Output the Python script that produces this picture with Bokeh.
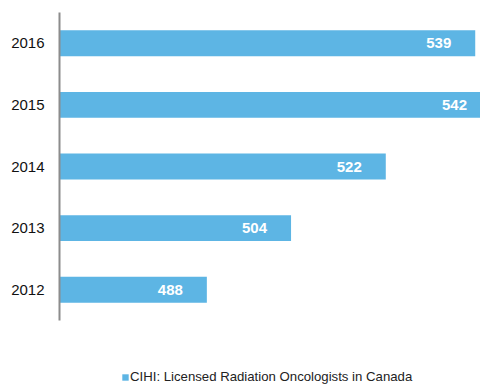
from bokeh.plotting import figure
from bokeh.models import ColumnDataSource, Range1d, Legend, LegendItem, FixedTicker
from bokeh.core.properties import value
from bokeh.embed import file_html
from bokeh.resources import INLINE

years = [2012, 2013, 2014, 2015, 2016]
year_labels = ["2012", "2013", "2014", "2015", "2016"]
counts = [488, 504, 522, 542, 539]
labels = [str(c) for c in counts]
series_name = "CIHI: Licensed Radiation Oncologists in Canada"

FONT = "Liberation Sans"
BAR = "#5db5e4"

src = ColumnDataSource(dict(year=years, count=counts, label=labels))

p = figure(width=480, height=386, output_backend="svg", toolbar_location=None,
           y_range=Range1d(2010.43, 2016.5), x_range=Range1d(460, 540),
           min_border_left=59, min_border_right=0, min_border_top=12,
           min_border_bottom=0)
p.outline_line_color = None
p.xgrid.visible = False
p.ygrid.visible = False
p.xaxis.visible = False

yax = p.yaxis[0]
yax.ticker = FixedTicker(ticks=years)
yax.major_label_overrides = {y: s for y, s in zip(years, year_labels)}
yax.bounds = (2011.5, 2016.5)
yax.axis_line_color = "#8c8c8c"
yax.axis_line_width = 2
yax.major_tick_line_color = None
yax.minor_tick_line_color = None
yax.major_tick_in = 0
yax.major_tick_out = 0
yax.minor_tick_in = 0
yax.minor_tick_out = 0
yax.major_label_text_font = FONT
yax.major_label_text_font_size = "15px"
yax.major_label_text_color = "#111111"
yax.major_label_standoff = 15

r = p.hbar(y="year", left=460, right="count", height=0.42, source=src,
           fill_color=BAR, line_color=None)

p.text(x="count", y="year", text="label", source=src, text_align="right",
       text_baseline="middle", x_offset=-24, text_color="white",
       text_font=value(FONT), text_font_style="bold", text_font_size="15px")

legend = Legend(items=[LegendItem(label=series_name, renderers=[r])],
                location=(62, 2), orientation="horizontal",
                glyph_width=8, glyph_height=8, label_standoff=1,
                padding=0, margin=0, border_line_color=None,
                background_fill_alpha=0,
                label_text_font=FONT, label_text_font_size="13.2px",
                label_text_color="#222222")
p.add_layout(legend, "center")

open("out.html", "w").write(file_html(p, INLINE))
